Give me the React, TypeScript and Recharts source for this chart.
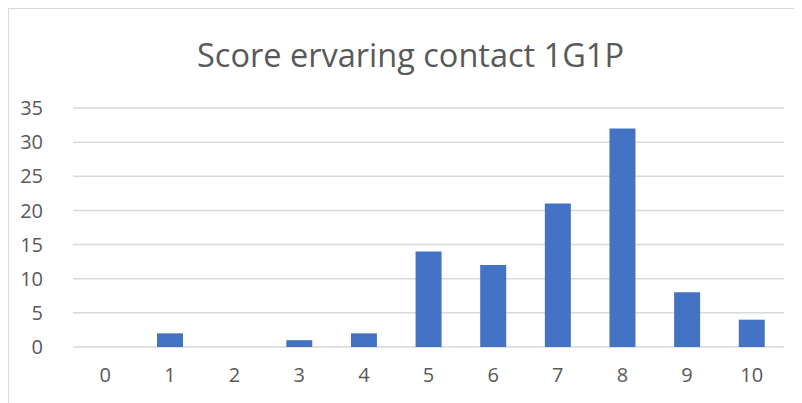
import { BarChart, Bar, XAxis, YAxis, CartesianGrid } from "recharts";

const scores = ["0", "1", "2", "3", "4", "5", "6", "7", "8", "9", "10"];
const counts = [0, 2, 0, 1, 2, 14, 12, 21, 32, 8, 4];
const yTicks = [0, 5, 10, 15, 20, 25, 30, 35];

const data = scores.map((score, i) => ({ score, count: counts[i] }));

const font = "'Open Sans', sans-serif";

export default function App() {
  return (
    <div
      style={{
        position: "relative",
        width: 793,
        height: 394,
        borderLeft: "1px solid #d9d9d9",
        borderTop: "1px solid #d9d9d9",
        background: "#fff",
        fontFamily: font,
      }}
    >
      <div
        style={{
          position: "absolute",
          left: 0,
          top: 24,
          width: 803,
          textAlign: "center",
          fontSize: 32.5,
          color: "#595959",
          lineHeight: "44px",
        }}
      >
        Score ervaring contact 1G1P
      </div>
      <BarChart
        width={793}
        height={394}
        data={data}
        margin={{ top: 99, right: 18, bottom: 26, left: 0 }}
        barCategoryGap="30%"
      >
        <CartesianGrid vertical={false} stroke="#d9d9d9" strokeWidth={1.5} />
        <XAxis
          dataKey="score"
          axisLine={false}
          tickLine={false}
          height={30}
          tickMargin={15}
          tick={{ fontSize: 20, fill: "#595959", fontFamily: font }}
        />
        <YAxis
          width={64}
          domain={[0, 35]}
          ticks={yTicks}
          axisLine={false}
          tickLine={false}
          tickMargin={24}
          tick={{ fontSize: 20, fill: "#595959", fontFamily: font }}
        />
        <Bar dataKey="count" fill="#4472c4" isAnimationActive={false} />
      </BarChart>
    </div>
  );
}
